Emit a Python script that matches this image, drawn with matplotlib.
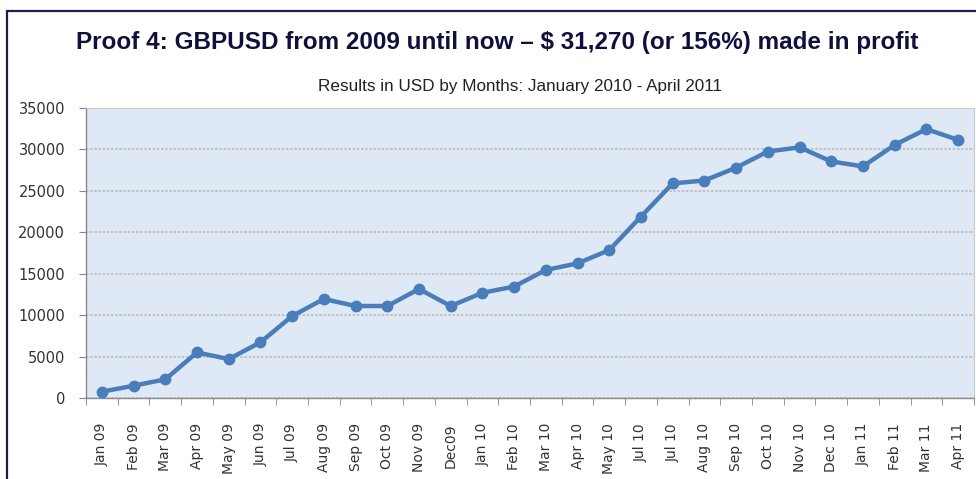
import matplotlib
matplotlib.use("Agg")
import matplotlib.pyplot as plt
from matplotlib.patches import Rectangle
import numpy as np

months = ["Jan 09", "Feb 09", "Mar 09", "Apr 09", "May 09", "Jun 09", "Jul 09",
          "Aug 09", "Sep 09", "Oct 09", "Nov 09", "Dec09", "Jan 10", "Feb 10",
          "Mar 10", "Apr 10", "May 10", "Jul 10", "Jul 10", "Aug 10", "Sep 10",
          "Oct 10", "Nov 10", "Dec 10", "Jan 11", "Feb 11", "Mar 11", "Apr 11"]
profit = [760, 1480, 2250, 5500, 4700, 6720, 9890, 11950, 11100, 11100, 13150,
          11100, 12700, 13450, 15450, 16250, 17850, 21900, 25900, 26250, 27800,
          29750, 30250, 28550, 27950, 30550, 32450, 31150]
yticks = [0, 5000, 10000, 15000, 20000, 25000, 30000, 35000]

title = "Proof 4: GBPUSD from 2009 until now \u2013 $ 31,270 (or 156%) made in profit"
subtitle = "Results in USD by Months: January 2010 - April 2011"

W, H = 976, 479
fig = plt.figure(figsize=(W / 100, H / 100), dpi=100)
fig.patch.set_facecolor("white")

# outer frame
fig.add_artist(Rectangle((7 / W, -0.1), 1.2, (H - 11) / H + 0.1, transform=fig.transFigure,
                         fill=False, edgecolor="#1c1c4e", linewidth=1.6))

ax = fig.add_axes([86 / W, 1 - 398 / H, (974 - 86) / W, (398 - 108) / H])
ax.set_facecolor("#dfe8f5")
x = np.arange(len(months))
ax.plot(x, profit, color="#4a7ebb", linewidth=3.2, marker="o", markersize=7.5,
        markerfacecolor="#4a7ebb", markeredgecolor="#4a7ebb", zorder=3)

ax.set_xlim(-0.5, len(months) - 0.5)
ax.set_ylim(0, 35000)
ax.set_yticks(yticks)
ax.set_yticklabels([str(v) for v in yticks])
ax.set_xticks(x)
ax.set_xticklabels(months, rotation=90)
ax.set_xticks(np.arange(len(months) + 1) - 0.5, minor=True)
ax.tick_params(axis="x", which="major", length=0, pad=18, labelsize=10, labelcolor="#333333")
ax.tick_params(axis="x", which="minor", length=5, color="#868686")
ax.tick_params(axis="y", which="major", length=5, color="#868686", pad=10,
               labelsize=10.5, labelcolor="#333333")

ax.grid(axis="y", color="#bcbcbc", linestyle=(0, (1.5, 1)), linewidth=1.2, zorder=0)
ax.set_axisbelow(True)
for side in ["top", "right"]:
    ax.spines[side].set_color("#c8c8c8")
    ax.spines[side].set_linestyle((0, (1.5, 1)))
for side in ["left", "bottom"]:
    ax.spines[side].set_color("#8a8a8a")
    ax.spines[side].set_linewidth(1.0)

fig.text(497 / W, 1 - 42 / H, title, ha="center", va="center", fontsize=17.5,
         fontweight="bold", color="#10103c", family=["Liberation Sans Narrow", "Liberation Sans"])
fig.text(520 / W, 1 - 86 / H, subtitle, ha="center", va="center", fontsize=12.3,
         color="#222222", family=["Liberation Sans Narrow", "Liberation Sans"])

fig.savefig("out.png", dpi=100)
